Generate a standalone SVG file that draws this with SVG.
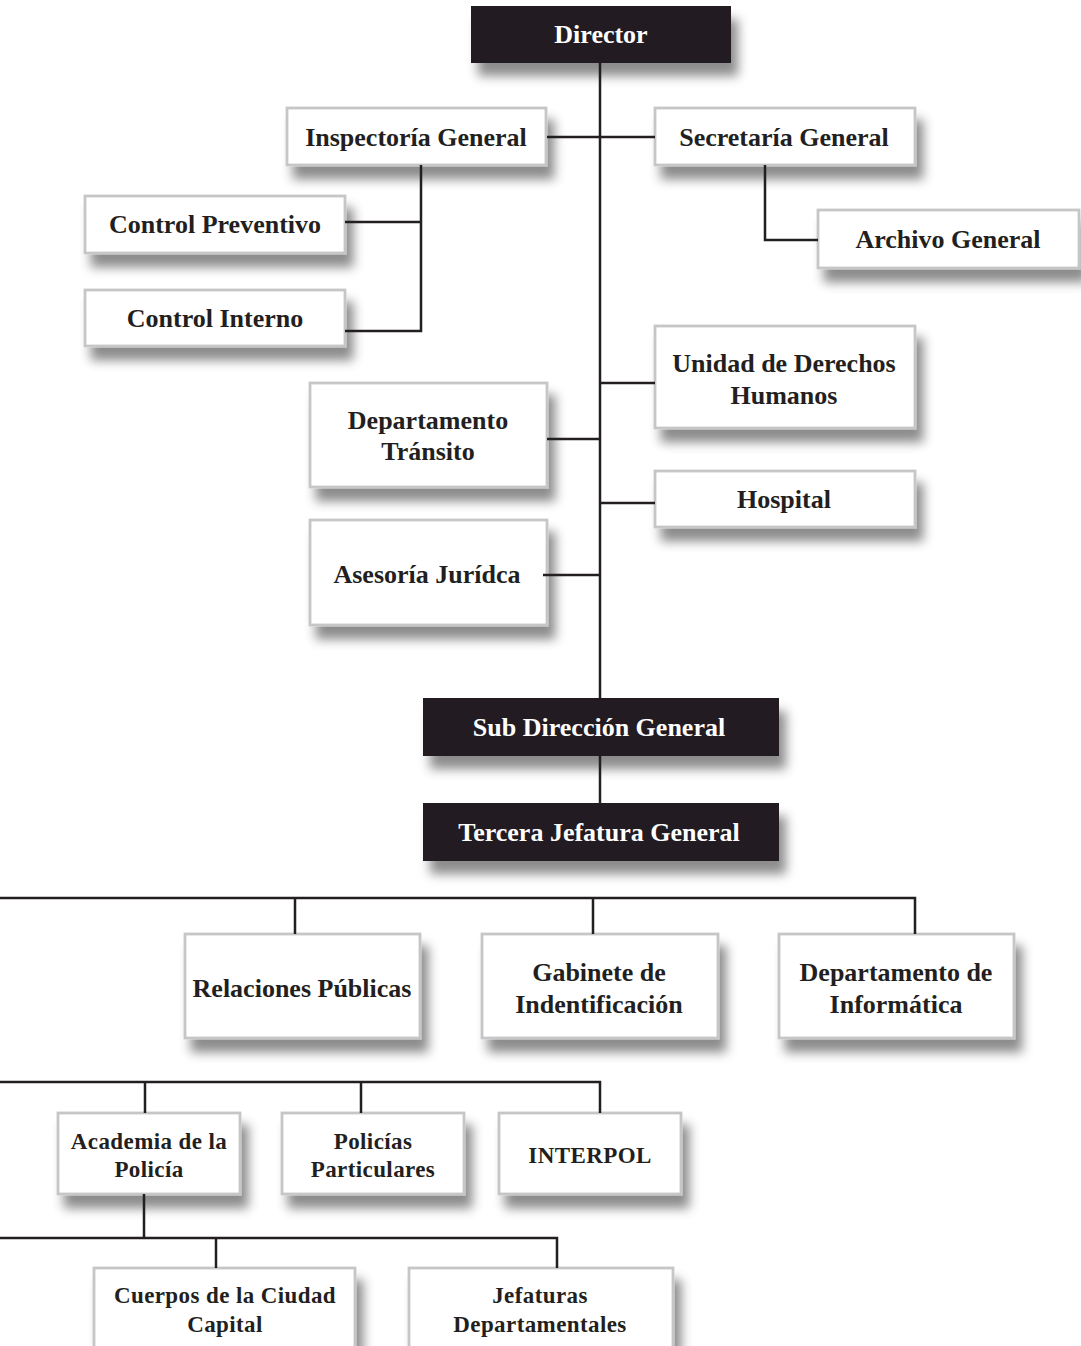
<svg xmlns="http://www.w3.org/2000/svg" width="1081" height="1346" viewBox="0 0 1081 1346">
<defs>
<filter id="sh" x="-10%" y="-20%" width="130%" height="170%">
<feDropShadow dx="7" dy="13" stdDeviation="5.5" flood-color="#000" flood-opacity="0.45"/>
</filter>
<style>
.b{fill:#fff;stroke:#c6c6c8;stroke-width:2.8;filter:url(#sh)}
.d{fill:#231f20;stroke:none;filter:url(#sh)}
.t{font-family:"Liberation Serif","Times New Roman",serif;font-weight:bold;font-size:26px;fill:#231f20;text-anchor:middle}
.w{fill:#fff}
.s{font-size:23px;letter-spacing:0.4px}
.c{fill:none;stroke:#231f20;stroke-width:2.5}
</style>
</defs>
<rect width="1081" height="1346" fill="#fff"/>

<g id="director"><rect class="d" x="471" y="6" width="260" height="57"/><text class="t w" x="601" y="43">Director</text></g>
<g id="inspectoria"><rect class="b" x="287" y="108" width="259" height="57"/><text class="t" x="416" y="146">Inspectoría General</text></g>
<g id="secretaria"><rect class="b" x="655" y="108" width="260" height="57"/><text class="t" x="784" y="146">Secretaría General</text></g>
<g id="archivo"><rect class="b" x="818" y="210" width="261" height="58"/><text class="t" x="948" y="248">Archivo General</text></g>
<g id="control-preventivo"><rect class="b" x="85" y="196" width="260" height="57"/><text class="t" x="215" y="233">Control Preventivo</text></g>
<g id="control-interno"><rect class="b" x="85" y="290" width="260" height="56"/><text class="t" x="215" y="327">Control Interno</text></g>
<g id="derechos-humanos"><rect class="b" x="655" y="326" width="260" height="102"/><text class="t" x="784" y="372">Unidad de Derechos</text><text class="t" x="784" y="404">Humanos</text></g>
<g id="transito"><rect class="b" x="310" y="383" width="237" height="104"/><text class="t" x="428" y="429">Departamento</text><text class="t" x="428" y="460">Tránsito</text></g>
<g id="hospital"><rect class="b" x="655" y="471" width="260" height="56"/><text class="t" x="784" y="508">Hospital</text></g>
<g id="asesoria"><rect class="b" x="310" y="520" width="237" height="105"/><text class="t" x="427" y="583">Asesoría Jurídca</text></g>
<g id="subdireccion"><rect class="d" x="423" y="698" width="356" height="58"/><text class="t w" x="599" y="736">Sub Dirección General</text></g>
<g id="tercera"><rect class="d" x="423" y="803" width="356" height="58"/><text class="t w" x="599" y="841">Tercera Jefatura General</text></g>
<g id="relaciones"><rect class="b" x="185" y="934" width="235" height="104"/><text class="t" x="302" y="997">Relaciones Públicas</text></g>
<g id="gabinete"><rect class="b" x="482" y="934" width="236" height="104"/><text class="t" x="599" y="981">Gabinete de</text><text class="t" x="599" y="1013">Indentificación</text></g>
<g id="informatica"><rect class="b" x="779" y="934" width="235" height="104"/><text class="t" x="896" y="981">Departamento de</text><text class="t" x="896" y="1013">Informática</text></g>
<g id="academia"><rect class="b" x="58" y="1113" width="182" height="81"/><text class="t s" x="149" y="1149">Academia de la</text><text class="t s" x="149" y="1177">Policía</text></g>
<g id="policias"><rect class="b" x="282" y="1113" width="182" height="81"/><text class="t s" x="373" y="1149">Policías</text><text class="t s" x="373" y="1177">Particulares</text></g>
<g id="interpol"><rect class="b" x="499" y="1113" width="182" height="81"/><text class="t s" x="590" y="1163">INTERPOL</text></g>
<g id="cuerpos"><rect class="b" x="94" y="1268" width="261" height="100"/><text class="t s" x="225" y="1303">Cuerpos de la Ciudad</text><text class="t s" x="225" y="1332">Capital</text></g>
<g id="jefaturas"><rect class="b" x="409" y="1268" width="264" height="100"/><text class="t s" x="540" y="1303">Jefaturas</text><text class="t s" x="540" y="1332">Departamentales</text></g>

<g id="connectors">
<path class="c" d="M600 63V698"/>
<path class="c" d="M547 137H655"/>
<path class="c" d="M765 165V240H818"/>
<path class="c" d="M421 165V331H345M345 222H421"/>
<path class="c" d="M600 383H655"/>
<path class="c" d="M547 439H600"/>
<path class="c" d="M600 503H655"/>
<path class="c" d="M543 575H600"/>
<path class="c" d="M600 756V803"/>
<path class="c" d="M0 898H915V934M295 898V934M593 898V934"/>
<path class="c" d="M0 1082H600V1113M145 1082V1113M361 1082V1113"/>
<path class="c" d="M144 1194V1238M0 1238H557V1268M216 1238V1268"/>
</g>
</svg>
